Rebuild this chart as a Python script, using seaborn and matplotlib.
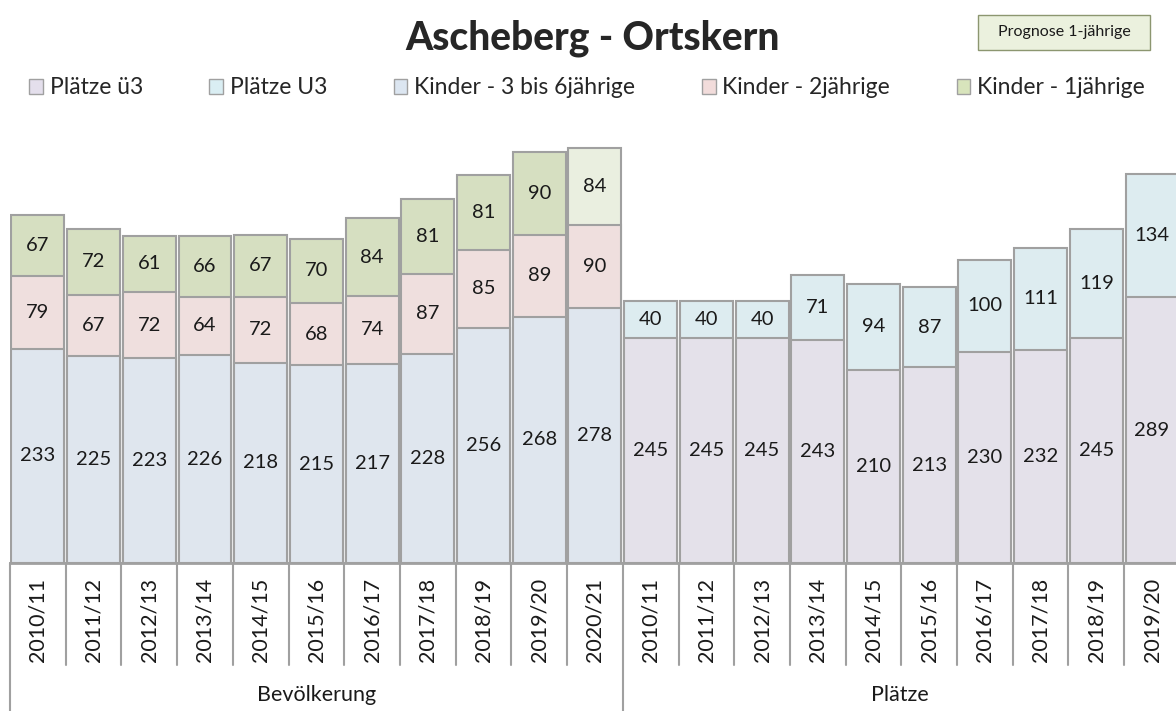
import pandas as pd
import numpy as np
import seaborn as sns
import matplotlib.pyplot as plt
import matplotlib.transforms as mtransforms
from matplotlib.patches import Patch, Rectangle

# Data
years = ["2010/11", "2011/12", "2012/13", "2013/14", "2014/15", "2015/16",
         "2016/17", "2017/18", "2018/19", "2019/20", "2020/21"]
kinder_3_6 = [233, 225, 223, 226, 218, 215, 217, 228, 256, 268, 278]
kinder_2 = [79, 67, 72, 64, 72, 68, 74, 87, 85, 89, 90]
kinder_1 = [67, 72, 61, 66, 67, 70, 84, 81, 81, 90, 84]

platz_years = years[:10]
plaetze_ue3 = [245, 245, 245, 243, 210, 213, 230, 232, 245, 289]
plaetze_u3 = [40, 40, 40, 71, 94, 87, 100, 111, 119, 134]

groups = ["Bevölkerung", "Plätze"]

colors = {
    "Plätze ü3": "#E4DFEC",
    "Plätze U3": "#DAEEF3",
    "Kinder - 3 bis 6jährige": "#DCE6F1",
    "Kinder - 2jährige": "#F2DCDB",
    "Kinder - 1jährige": "#D8E4BC",
    "Prognose 1-jährige": "#EBF1DE",
}
edge = "#A0A0A0"

# long table: one row per bar segment
rows = []
keys = []
for i, y in enumerate(years):
    k = "B " + y
    keys.append(k)
    s1 = "Prognose 1-jährige" if i == len(years) - 1 else "Kinder - 1jährige"
    for layer, (s, v) in enumerate([("Kinder - 3 bis 6jährige", kinder_3_6[i]),
                                    ("Kinder - 2jährige", kinder_2[i]),
                                    (s1, kinder_1[i])]):
        rows.append({"key": k, "label": y, "layer": layer, "series": s, "value": v})
for i, y in enumerate(platz_years):
    k = "P " + y
    keys.append(k)
    for layer, (s, v) in enumerate([("Plätze ü3", plaetze_ue3[i]),
                                    ("Plätze U3", plaetze_u3[i])]):
        rows.append({"key": k, "label": y, "layer": layer, "series": s, "value": v})

df = pd.DataFrame(rows)
df["top"] = df.groupby("key")["value"].cumsum()
df["mid"] = df["top"] - df["value"] / 2
df["pos"] = df["key"].map({k: i for i, k in enumerate(keys)})

sns.set_style("white")
plt.rcParams["font.family"] = ["Lato", "DejaVu Sans"]

fig = plt.figure(figsize=(11.76, 7.11), dpi=100)
ax = fig.add_axes([10 / 1176, 148 / 711, 1166 / 1176, 441 / 711])

# draw cumulative layers from the top down
for layer in [2, 1, 0]:
    sub = df[df["layer"] == layer]
    sns.barplot(data=sub, x="key", y="top", hue="series", palette=colors,
                order=keys, dodge=False, width=0.95, edgecolor=edge,
                linewidth=1.5, legend=False, ax=ax)

for _, r in df.iterrows():
    ax.text(r["pos"], r["mid"], str(r["value"]), ha="center", va="center",
            fontsize=14.5, color="#1a1a1a")

ax.set_xlim(-0.5, 20.43)
ax.set_ylim(0, 480)
ax.set_xticks([])
ax.set_yticks([])
ax.set_xlabel("")
ax.set_ylabel("")
for sp in ["top", "right", "left"]:
    ax.spines[sp].set_visible(False)
ax.spines["bottom"].set_color(edge)
ax.spines["bottom"].set_linewidth(2)

# category axis below the bars
tr = mtransforms.blended_transform_factory(ax.transData, fig.transFigure)
y_axis = 148 / 711
for i, k in enumerate(keys):
    ax.text(i, 91 / 711, df.loc[df["key"] == k, "label"].iloc[0], transform=tr,
            rotation=90, ha="center", va="center", fontsize=15.5, color="#1a1a1a")
n_bev = len(years)
for b in np.arange(-0.5, len(keys) + 0.5, 1.0):
    low = 0 if b in (-0.5, n_bev - 0.5) else 46 / 711
    ax.plot([b, b], [y_axis, low], transform=tr, color=edge, lw=1.5,
            clip_on=False)
ax.text((n_bev - 1) / 2, 16 / 711, groups[0], transform=tr, ha="center",
        va="center", fontsize=15.5, color="#1a1a1a")
ax.text((n_bev - 0.5 + 20.43) / 2, 16 / 711, groups[1], transform=tr,
        ha="center", va="center", fontsize=15.5, color="#1a1a1a")

# title, legend, forecast note
fig.text(593 / 1176, 1 - 38 / 711, "Ascheberg - Ortskern", ha="center",
         va="center", fontsize=28, fontweight="black")

legend_names = ["Plätze ü3", "Plätze U3", "Kinder - 3 bis 6jährige",
                "Kinder - 2jährige", "Kinder - 1jährige"]
handles = [Patch(facecolor=colors[n], edgecolor=edge, linewidth=1) for n in legend_names]
fig.legend(handles, legend_names, loc="center", bbox_to_anchor=(587 / 1176, 1 - 88 / 711),
           ncol=5, frameon=False, fontsize=16.5, handlelength=0.6, handleheight=0.6,
           handletextpad=0.3, columnspacing=2.9)

fig.patches.append(Rectangle((978 / 1176, 1 - 50 / 711), 172 / 1176, 35 / 711,
                             transform=fig.transFigure, facecolor=colors["Prognose 1-jährige"],
                             edgecolor="#8C9670", linewidth=1))
fig.text(1064 / 1176, 1 - 32 / 711, "Prognose 1-jährige", ha="center", va="center",
         fontsize=11.5, color="#1a1a1a")

fig.savefig("out.png", dpi=100)
